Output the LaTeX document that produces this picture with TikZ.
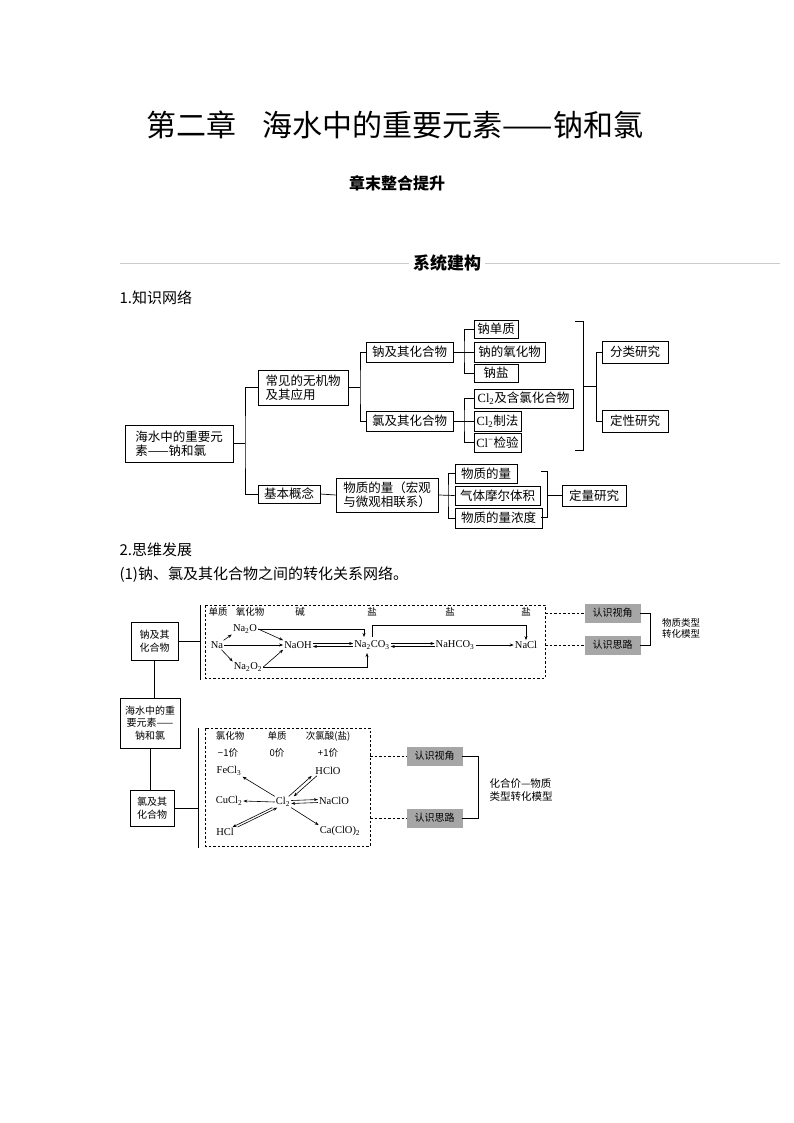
\documentclass[tikz,border=0pt]{standalone}
\usepackage{fontspec}
\setmainfont{Noto Sans CJK SC}
\newfontfamily\lf{Liberation Serif}
\usetikzlibrary{arrows.meta}
\newcommand{\sub}[1]{\textsubscript{#1}}
\begin{document}
\begin{tikzpicture}[x=1pt,y=-1pt,
  bx/.style={draw,line width=0.8pt,inner sep=1pt,font=\fontsize{12.5}{14}\selectfont},
  ln/.style={line width=0.7pt},
  sb/.style={draw,line width=0.7pt,inner sep=1pt,align=center,font=\fontsize{10}{12.5}\selectfont},
  gb/.style={fill=black!35,draw=black!35,minimum width=55,minimum height=18,inner sep=0pt,font=\fontsize{10}{12}\selectfont},
  ch/.style={inner sep=1pt,font=\lf\fontsize{10.5}{12}\selectfont},
  hd/.style={inner sep=0pt,font=\fontsize{9.5}{11}\selectfont},
  ar/.style={line width=0.6pt,-{Stealth[length=4pt,width=3pt]}},
  dl/.style={line width=0.7pt,dashed,dash pattern=on 2.5pt off 2pt}]
\useasboundingbox[fill=white] (0,0) rectangle (794,1123);
% titles
\node[font=\fontsize{30}{32}\selectfont] (title) at (395,125) {第二章\hspace{26pt}海水中的重要元素——钠和氯};
\node[font=\bfseries\fontsize{16}{18}\selectfont] (sub) at (397,183) {章末整合提升};
\node[font=\bfseries\fontsize{17}{19}\selectfont] (xt) at (447,263) {系统建构};
\draw[black!20,line width=0.5pt] (120,263) -- (xt.west);
\draw[black!20,line width=0.5pt] (xt.east) -- (780,263);
\node[anchor=west,font=\fontsize{15}{17}\selectfont] (s1) at (116,298) {1.知识网络};
% tree
\node[bx,minimum width=108,minimum height=37,align=left] (root) at (179,443.5) {海水中的重要元\\素——钠和氯};
\node[bx,minimum width=90,minimum height=35,align=left] (cj) at (303,387.5) {常见的无机物\\及其应用};
\node[bx,minimum width=62,minimum height=18] (jb) at (289,494) {基本概念};
\node[bx,minimum width=87,minimum height=20] (na) at (409.5,352) {钠及其化合物};
\node[bx,minimum width=87,minimum height=20] (cl) at (409.5,421) {氯及其化合物};
\node[bx,minimum width=44,minimum height=18] (l1) at (496,329) {钠单质};
\node[bx,minimum width=71,minimum height=20] (l2) at (509.5,352) {钠的氧化物};
\node[bx,minimum width=44,minimum height=18] (l3) at (496,373) {钠盐};
\node[bx,minimum width=99,minimum height=19] (c1) at (523.5,398.5) {{\lf Cl\sub{2}}及含氯化合物};
\node[bx,minimum width=47,minimum height=20] (c2) at (497.5,421) {{\lf Cl\sub{2}}制法};
\node[bx,minimum width=47,minimum height=19] (c3) at (497.5,442.5) {{\lf Cl\textsuperscript{\textminus}}检验};
\node[bx,minimum width=66,minimum height=22] (fl) at (635,352) {分类研究};
\node[bx,minimum width=66,minimum height=22] (dx) at (635,421) {定性研究};
\node[bx,minimum width=102,minimum height=34,align=left] (wz) at (387,495) {物质的量（宏观\\与微观相联系）};
\node[bx,minimum width=62,minimum height=19] (m1) at (486,473.5) {物质的量};
\node[bx,minimum width=85,minimum height=19] (m2) at (497.5,495.5) {气体摩尔体积};
\node[bx,minimum width=87,minimum height=20] (m3) at (498.5,518) {物质的量浓度};
\node[bx,minimum width=64,minimum height=21] (dl) at (594,495.5) {定量研究};
\coordinate (t0) at (245,443.5);
\draw[ln] (root.east) -- (t0);
\draw[ln] (cj.west) -| (t0) |- (jb.west);
\coordinate (t1) at (360,387.5);
\draw[ln] (cj.east) -- (t1);
\draw[ln] (na.west) -| (t1) |- (cl.west);
\coordinate (t2) at (464,352);
\draw[ln] (na.east) -- (l2.west);
\draw[ln] (l1.west) -| (t2) |- (l3.west);
\coordinate (t3) at (464,421);
\draw[ln] (cl.east) -- (c2.west);
\draw[ln] (c1.west) -| (t3) |- (c3.west);
\coordinate (b1) at (583,321); \coordinate (b2) at (583,450); \coordinate (bm) at (583,386.5);
\draw[ln] (575,321) -- (b1) -- (b2) -- (575,450);
\coordinate (t4) at (596,386.5);
\draw[ln] (bm) -- (t4);
\draw[ln] (fl.west) -| (t4) |- (dx.west);
\coordinate (t5) at (448,495.5);
\draw[ln] (jb.east) -- (wz.west);
\draw[ln] (wz.east) -- (m2.west);
\draw[ln] (m1.west) -| (t5) |- (m3.west);
\draw[ln] (541,471) -- (547,471) -- (547,517) -- (541,517);
\coordinate (bq) at (547,495.5);
\draw[ln] (bq) -- (dl.west);
% section 2
\node[anchor=west,font=\fontsize{15}{17}\selectfont] (s2) at (116,550) {2.思维发展};
\node[anchor=west,font=\fontsize{15}{17}\selectfont] (s3) at (116,575) {(1)钠、氯及其化合物之间的转化关系网络。};
% sodium diagram
\node[sb,minimum width=47,minimum height=38] (nb) at (154.5,641) {钠及其\\化合物};
\node[sb,minimum width=60,minimum height=50] (hb) at (150,723) {海水中的重\\要元素——\\钠和氯};
\node[sb,minimum width=44,minimum height=36] (cb) at (152,808) {氯及其\\化合物};
\draw[ln] (nb.south) -- (nb.south |- hb.north);
\draw[ln] (hb.south) -- (hb.south |- cb.north);
\coordinate (v1) at (200,641);
\draw[ln] (nb.east) -- (v1);
\draw[ln] (200,605) -- (200,680);
\draw[dl] (205,605) rectangle (545,678);
\node[hd] (h1) at (218,612) {单质};
\node[hd] (h2) at (250,612) {氧化物};
\node[hd] (h3) at (300,612) {碱};
\node[hd] (h4) at (372,612) {盐};
\node[hd] (h5) at (450,612) {盐};
\node[hd] (h6) at (526,612) {盐};
\node[ch] (Na) at (217,645) {Na};
\node[ch] (Na2O) at (245,629) {Na\sub{2}O};
\node[ch] (Na2O2) at (248,667) {Na\sub{2}O\sub{2}};
\node[ch] (NaOH) at (298,645) {NaOH};
\node[ch] (Na2CO3) at (372,645) {Na\sub{2}CO\sub{3}};
\node[ch] (NaHCO3) at (455,645) {NaHCO\sub{3}};
\node[ch] (NaCl) at (526,645) {NaCl};
\draw[ar] (Na) -- (Na2O.south west);
\draw[ar] (Na) -- (Na2O2.north west);
\draw[ar] (Na) -- (NaOH);
\draw[ar] (Na2O.east) -- (NaOH.north west);
\draw[ar] (Na2O2.east) -- (NaOH.south west);
\draw[ar] (Na2O.east) -- (364,629) -- (364,637);
\draw[ar] (Na2O2.east) -- (367,667) -- (367,653);
\draw[ar] ([yshift=1.5]NaOH.east) -- ([yshift=1.5]Na2CO3.west);
\draw[ar] ([yshift=-1.5]Na2CO3.west) -- ([yshift=-1.5]NaOH.east);
\draw[ar] ([yshift=1.5]Na2CO3.east) -- ([yshift=1.5]NaHCO3.west);
\draw[ar] ([yshift=-1.5]NaHCO3.west) -- ([yshift=-1.5]Na2CO3.east);
\draw[ar] (NaHCO3) -- (NaCl);
\draw[ar] (372,637) -- (372,625) -- (526,625) -- (NaCl.north);
\node[gb] (g1) at (612.5,613) {认识视角};
\node[gb] (g2) at (612.5,645) {认识思路};
\draw[dl] (545,613) -- (g1.west);
\draw[dl] (545,645) -- (g2.west);
\draw[ln] (g1.east) -- (650,613) -- (650,645) -- (g2.east);
\node[hd,align=center] (m1t) at (681,628) {物质类型\\转化模型};
% chlorine diagram
\coordinate (v2) at (198,808);
\draw[ln] (cb.east) -- (v2);
\draw[ln] (198,728) -- (198,848);
\draw[dl] (205,728) rectangle (370,846);
\node[hd] (k1) at (230,736) {氯化物};
\node[hd] (k2) at (277,736) {单质};
\node[hd] (k3) at (328,736) {次氯酸(盐)};
\node[hd] (k4) at (228,753) {−1价};
\node[hd] (k5) at (277,753) {0价};
\node[hd] (k6) at (328,753) {+1价};
\node[ch] (FeCl3) at (229,771) {FeCl\sub{3}};
\node[ch] (HClO) at (328,771) {HClO};
\node[ch] (CuCl2) at (229,801) {CuCl\sub{2}};
\node[ch] (Cl2) at (283,802) {Cl\sub{2}};
\node[ch] (NaClO) at (334,801) {NaClO};
\node[ch] (HCl) at (225,832) {HCl};
\node[ch] (CaClO) at (340,831) {Ca(ClO)\sub{2}};
\draw[ar] (Cl2.north west) -- (FeCl3.south east);
\draw[ar] (Cl2.west) -- (CuCl2.east);
\draw[ar] (Cl2.south east) -- (CaClO.north west);
\draw[ar] ([xshift=-2.5]Cl2.north east) -- ([xshift=-2.5]HClO.south west);
\draw[ar] ([xshift=2.5]HClO.south west) -- ([xshift=2.5]Cl2.north east);
\draw[ar] ([yshift=1.5]Cl2.east) -- ([yshift=1.5]NaClO.west);
\draw[ar] ([yshift=-1.5]NaClO.west) -- ([yshift=-1.5]Cl2.east);
\draw[ar] ([xshift=-2.5]Cl2.south west) -- ([xshift=-2.5]HCl.north east);
\draw[ar] ([xshift=2.5]HCl.north east) -- ([xshift=2.5]Cl2.south west);
\node[gb] (g3) at (434.5,756) {认识视角};
\node[gb] (g4) at (434.5,818) {认识思路};
\draw[dl] (370,756) -- (g3.west);
\draw[dl] (370,818) -- (g4.west);
\draw[ln] (g3.east) -- (478,756) -- (478,818) -- (g4.east);
\node[hd,align=left,font=\fontsize{10.5}{13}\selectfont] (m2t) at (521,790) {化合价—物质\\类型转化模型};
\end{tikzpicture}
\end{document}
